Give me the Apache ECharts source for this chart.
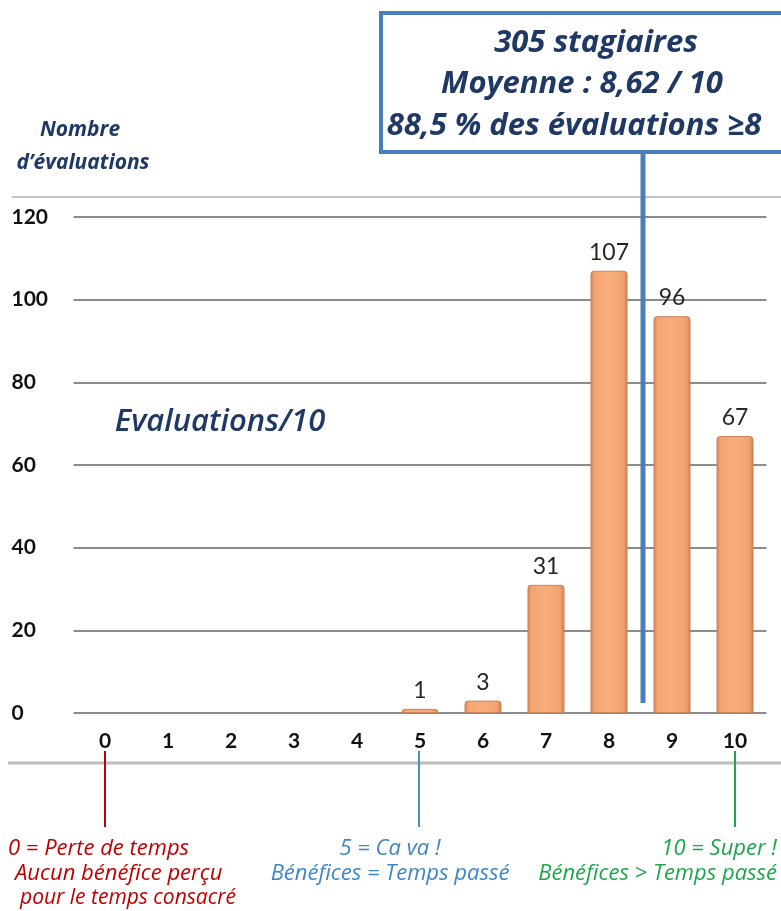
<!DOCTYPE html>
<html>
<head>
<meta charset="utf-8">
<title>Evaluations/10</title>
<script src="https://cdn.jsdelivr.net/npm/echarts@6/dist/echarts.min.js"></script>
<style>
  html, body { margin: 0; padding: 0; background: #fff; }
  #chart { width: 781px; height: 911px; }
</style>
</head>
<body>
<div id="chart"></div>
<script>
// --- données ---
const notes = ['0', '1', '2', '3', '4', '5', '6', '7', '8', '9', '10'];
const nbEvaluations = [0, 0, 0, 0, 0, 1, 3, 31, 107, 96, 67];
const yTicks = { min: 0, max: 120, interval: 20 };
const resume = ['305 stagiaires', 'Moyenne : 8,62 / 10', '88,5 % des évaluations ≥8'];

const navy = '#1F3864';
const boxBlue = '#4A7EBB';
const font = 'Lato, "Open Sans", sans-serif';
const fontWide = '"Open Sans", Lato, sans-serif';

const chart = echarts.init(document.getElementById('chart'));

// dégradé "3D" des barres façon Excel
const barColor = new echarts.graphic.LinearGradient(0, 0, 1, 0, [
  { offset: 0, color: '#D58656' },
  { offset: 0.12, color: '#F4A673' },
  { offset: 0.5, color: '#F7AE7C' },
  { offset: 0.88, color: '#F2A26F' },
  { offset: 1, color: '#CF7F50' },
]);

// pas de contour pour les notes sans évaluation
const barData = nbEvaluations.map(v => (v ? v : { value: v, itemStyle: { borderWidth: 0 } }));

chart.setOption({
  animation: false,
  backgroundColor: '#fff',
  grid: { left: 73.5, right: 14.5, top: 217, bottom: 198 },
  xAxis: {
    type: 'category',
    data: notes,
    axisLine: { show: false },
    axisTick: { show: false },
    axisLabel: { color: '#111', fontFamily: font, fontWeight: 'bold', fontSize: 21, margin: 18 },
  },
  yAxis: {
    type: 'value',
    ...yTicks,
    axisLine: { show: false },
    axisTick: { show: false },
    axisLabel: { color: '#111', fontFamily: font, fontWeight: 'bold', fontSize: 21, align: 'left', margin: 62 },
    splitLine: { lineStyle: { color: '#8c8c8c', width: 2 } },
  },
  series: [{
    type: 'bar',
    data: barData,
    barWidth: 37,
    itemStyle: { color: barColor, borderColor: '#C9825A', borderWidth: 1, borderRadius: [3, 3, 0, 0] },
    label: {
      show: true,
      position: 'top',
      distance: 7,
      color: '#262626',
      fontFamily: font,
      fontSize: 23,
      formatter: p => (p.value ? p.value : ''),
    },
    z: 2,
  }],
  graphic: [
    // lignes grises haut / bas
    { type: 'line', shape: { x1: 12, y1: 197, x2: 781, y2: 197 }, style: { stroke: '#c4c4c4', lineWidth: 2 } },
    { type: 'line', shape: { x1: 8, y1: 763, x2: 781, y2: 763 }, style: { stroke: '#bdbdbd', lineWidth: 3 } },
    // titre axe y
    { type: 'text', x: 80, y: 130, style: { text: 'Nombre', fill: navy, font: 'italic bold 21px ' + fontWide, align: 'center', verticalAlign: 'middle' } },
    { type: 'text', x: 83, y: 163, style: { text: 'd’évaluations', fill: navy, font: 'italic bold 21px ' + fontWide, align: 'center', verticalAlign: 'middle' } },
    { type: 'text', x: 220, y: 422, style: { text: 'Evaluations/10', fill: navy, font: 'italic 600 31px ' + fontWide, align: 'center', verticalAlign: 'middle' } },
    // ligne de la moyenne + encadré
    { type: 'line', z: 10, shape: { x1: 643, y1: 150, x2: 643, y2: 703 }, style: { stroke: boxBlue, lineWidth: 5 } },
    { type: 'rect', z: 11, shape: { x: 381, y: 13, width: 420, height: 139 }, style: { fill: '#fff', stroke: boxBlue, lineWidth: 4 } },
    { type: 'text', z: 12, x: 596, y: 43, style: { text: resume[0], fill: navy, font: 'italic bold 31px ' + fontWide, align: 'center', verticalAlign: 'middle' } },
    { type: 'text', z: 12, x: 582, y: 84, style: { text: resume[1], fill: navy, font: 'italic bold 31px ' + fontWide, align: 'center', verticalAlign: 'middle' } },
    { type: 'text', z: 12, x: 574, y: 126, style: { text: resume[2], fill: navy, font: 'italic bold 31px ' + fontWide, align: 'center', verticalAlign: 'middle' } },
    // repères 0 / 5 / 10
    { type: 'line', shape: { x1: 105, y1: 751, x2: 105, y2: 827 }, style: { stroke: '#C00000', lineWidth: 2 } },
    { type: 'line', shape: { x1: 419, y1: 751, x2: 419, y2: 827 }, style: { stroke: '#4F8FCB', lineWidth: 2 } },
    { type: 'line', shape: { x1: 735, y1: 751, x2: 735, y2: 827 }, style: { stroke: '#1EA64E', lineWidth: 2 } },
    { type: 'text', x: 8, y: 849, style: { text: '0 = Perte de temps', fill: '#C00000', font: 'italic 22px ' + fontWide, verticalAlign: 'middle' } },
    { type: 'text', x: 15, y: 874, style: { text: 'Aucun bénéfice perçu', fill: '#C00000', font: 'italic 22px ' + fontWide, verticalAlign: 'middle' } },
    { type: 'text', x: 20, y: 898, style: { text: 'pour le temps consacré', fill: '#C00000', font: 'italic 21px ' + fontWide, verticalAlign: 'middle' } },
    { type: 'text', x: 390, y: 849, style: { text: '5 = Ca va !', fill: '#3E86C6', font: 'italic 22px ' + fontWide, align: 'center', verticalAlign: 'middle' } },
    { type: 'text', x: 390, y: 874, style: { text: 'Bénéfices = Temps passé', fill: '#3E86C6', font: 'italic 22px ' + fontWide, align: 'center', verticalAlign: 'middle' } },
    { type: 'text', x: 777, y: 849, style: { text: '10 = Super !', fill: '#1EA64E', font: 'italic 22px ' + fontWide, align: 'right', verticalAlign: 'middle' } },
    { type: 'text', x: 777, y: 874, style: { text: 'Bénéfices > Temps passé', fill: '#1EA64E', font: 'italic 22px ' + fontWide, align: 'right', verticalAlign: 'middle' } },
  ],
});
</script>
</body>
</html>
